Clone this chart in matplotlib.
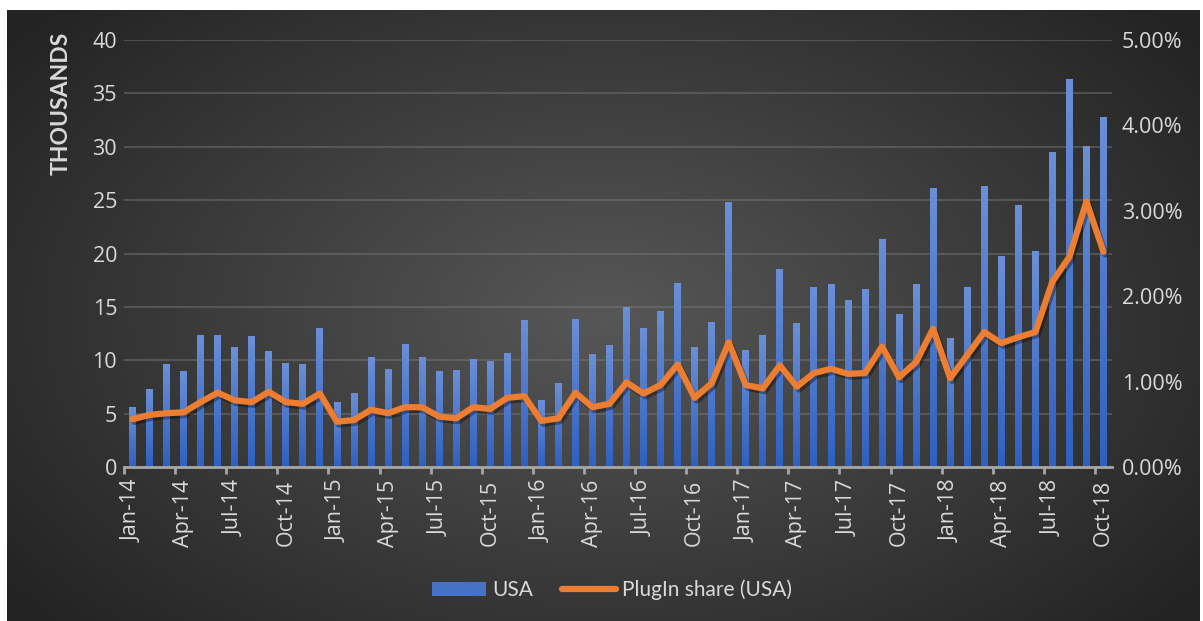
import numpy as np
import pandas as pd
import matplotlib
matplotlib.use("Agg")
import matplotlib.pyplot as plt
from matplotlib.ticker import FixedLocator
from matplotlib.lines import Line2D
from matplotlib.patches import Patch
import matplotlib.patheffects as pe

plt.rcParams['font.family'] = ['Lato', 'DejaVu Sans']

# Data
months = list(pd.date_range("2014-01-01", periods=58, freq="MS").strftime("%b-%y"))

usa_sales = [
    5.6, 7.3, 9.6, 8.9, 12.3, 12.3, 11.2, 12.2, 10.8, 9.7, 9.6, 13.0,
    6.0, 6.9, 10.3, 9.1, 11.5, 10.3, 8.9, 9.0, 10.1, 9.9, 10.6, 13.7,
    6.2, 7.8, 13.8, 10.5, 11.4, 14.9, 13.0, 14.6, 17.2, 11.2, 13.5, 24.8,
    10.9, 12.3, 18.5, 13.4, 16.8, 17.1, 15.6, 16.6, 21.3, 14.3, 17.1, 26.1,
    12.0, 16.8, 26.3, 19.7, 24.5, 20.2, 29.5, 36.3, 30.0, 32.7,
]

plugin_share = [
    0.56, 0.61, 0.63, 0.64, 0.76, 0.87, 0.78, 0.76, 0.88, 0.76, 0.74, 0.86,
    0.53, 0.55, 0.67, 0.63, 0.70, 0.70, 0.59, 0.57, 0.70, 0.68, 0.81, 0.83,
    0.54, 0.57, 0.87, 0.70, 0.74, 0.99, 0.86, 0.96, 1.20, 0.81, 0.98, 1.46,
    0.96, 0.92, 1.19, 0.94, 1.10, 1.15, 1.09, 1.10, 1.41, 1.05, 1.23, 1.62,
    1.04, 1.31, 1.58, 1.45, 1.52, 1.58, 2.17, 2.46, 3.11, 2.52,
]

left_ticks = [0, 5, 10, 15, 20, 25, 30, 35, 40]
right_ticks = [0, 0.01, 0.02, 0.03, 0.04, 0.05]

text_col = "#d9d9d9"
num_font = ["Open Sans", "DejaVu Sans"]
W, H = 1203, 621
fig = plt.figure(figsize=(W / 100, H / 100), dpi=100)
fig.patch.set_facecolor("white")

# radial gradient background
bg = fig.add_axes([7 / W, 0, (W - 10) / W, (H - 10) / H])
bg.set_axis_off()
yy, xx = np.mgrid[0:1:300j, 0:1:600j]
r = np.sqrt(((xx - 0.5) / 0.62) ** 2 + ((yy - 0.5) / 0.75) ** 2)
r = np.clip(r, 0, 1)
shade = 0.34 - 0.2 * r
bg.imshow(np.dstack([shade, shade, shade]), aspect="auto", extent=[0, 1, 0, 1])

x = np.arange(len(months))
ax = fig.add_axes([124 / W, 1 - 467 / H, 988 / W, 427 / H])
ax.patch.set_alpha(0)
ax.set_xlim(-0.5, len(months) - 0.5)
ax.set_ylim(0, 40)

bars = ax.bar(x, usa_sales, width=0.4, color="#4472c4", zorder=2)
grad = np.linspace(0, 1, 64).reshape(-1, 1)
top_c = np.array([0.42, 0.56, 0.84])
bot_c = np.array([0.18, 0.38, 0.75])
for b in bars:
    img = top_c * (1 - grad[..., None]) + bot_c * grad[..., None]
    x0, w, h = b.get_x(), b.get_width(), b.get_height()
    ax.imshow(img, extent=[x0, x0 + w, 0, h], aspect="auto", zorder=2.1)
    b.set_alpha(0)

ax.set_yticks(left_ticks)
ax.set_yticklabels([str(v) for v in left_ticks], family=num_font)
ax.yaxis.grid(True, color="#7a7a7a", alpha=0.45, linewidth=1.5)
ax.set_axisbelow(True)
for s in ["top", "right", "left"]:
    ax.spines[s].set_visible(False)
ax.spines["bottom"].set_color("#a6a6a6")
ax.spines["bottom"].set_linewidth(2)
ax.tick_params(axis="y", length=0, labelsize=15.5, labelcolor=text_col, pad=5)

ax.set_xticks(x[::3])
ax.set_xticklabels(months[::3], rotation=90, fontsize=15.5, color=text_col,
                   family=num_font)
ax.xaxis.set_minor_locator(FixedLocator(np.arange(-0.5, len(months) - 0.5, 3)))
ax.tick_params(axis="x", which="major", length=0, pad=9)
ax.tick_params(axis="x", which="minor", length=5, width=2, color="#a6a6a6")

ax2 = ax.twinx()
ax2.set_ylim(0, 0.05)
ax2.set_yticks(right_ticks)
ax2.set_yticklabels([f"{v * 100:.2f}%" for v in right_ticks], family=num_font)
ax2.tick_params(axis="y", length=0, labelsize=15.5, labelcolor=text_col, pad=7)
for s in ax2.spines.values():
    s.set_visible(False)
ax2.plot(x, np.array(plugin_share) / 100, color="#ed7d31", linewidth=4.5,
         solid_joinstyle="round", solid_capstyle="round", zorder=3,
         path_effects=[pe.SimpleLineShadow(offset=(1.5, -2), alpha=0.35), pe.Normal()])

fig.text(61 / W, 1 - 103 / H, "THOUSANDS", rotation=90, ha="center", va="center",
         fontsize=16.5, fontweight="bold", color=text_col)

handles = [Patch(facecolor="#4472c4", edgecolor="none"),
           Line2D([0], [0], color="#ed7d31", linewidth=4.5, solid_capstyle="round")]
leg = fig.legend(handles, ["USA", "PlugIn share (USA)"], loc="center",
                 bbox_to_anchor=(612 / W, 1 - 590 / H), ncol=2, frameon=False,
                 fontsize=15, labelcolor=text_col, handlelength=2.6,
                 handletextpad=0.3, columnspacing=1.4)

fig.savefig("out.png", dpi=100, facecolor=fig.get_facecolor())
